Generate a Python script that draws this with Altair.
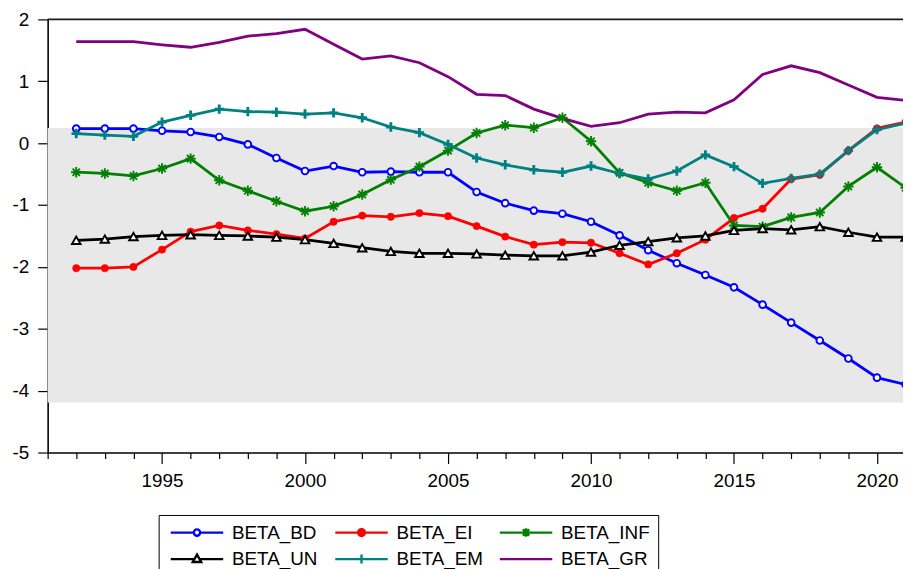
import altair as alt
import pandas as pd

YEARS = list(range(1992, 2022))
SERIES = ["BETA_BD", "BETA_EI", "BETA_INF", "BETA_UN", "BETA_EM", "BETA_GR"]

BETA_BD = [0.235, 0.235, 0.235, 0.20, 0.18, 0.10, -0.02, -0.24, -0.45, -0.37, -0.47, -0.46, -0.47, -0.47,
           -0.79, -0.97, -1.09, -1.14, -1.27, -1.49, -1.73, -1.94, -2.13, -2.33, -2.61, -2.90, -3.19, -3.48, -3.79, -3.90]
BETA_EI = [-2.02, -2.02, -2.00, -1.72, -1.43, -1.33, -1.41, -1.47, -1.54, -1.27, -1.17, -1.19, -1.13, -1.18,
           -1.34, -1.51, -1.64, -1.60, -1.61, -1.78, -1.96, -1.78, -1.56, -1.21, -1.06, -0.58, -0.51, -0.12, 0.24, 0.34]
BETA_INF = [-0.47, -0.49, -0.53, -0.41, -0.25, -0.60, -0.77, -0.94, -1.10, -1.02, -0.83, -0.59, -0.38, -0.12,
            0.165, 0.29, 0.25, 0.41, 0.03, -0.48, -0.64, -0.77, -0.64, -1.33, -1.35, -1.20, -1.12, -0.70, -0.39, -0.72]
BETA_UN = [-1.57, -1.55, -1.51, -1.49, -1.48, -1.49, -1.50, -1.52, -1.56, -1.62, -1.69, -1.75, -1.78, -1.78,
           -1.79, -1.81, -1.82, -1.82, -1.76, -1.65, -1.59, -1.53, -1.50, -1.41, -1.38, -1.40, -1.35, -1.44, -1.52, -1.52]
BETA_EM = [0.155, 0.13, 0.11, 0.34, 0.45, 0.55, 0.51, 0.50, 0.47, 0.49, 0.41, 0.26, 0.17, -0.02,
           -0.24, -0.35, -0.43, -0.47, -0.37, -0.49, -0.58, -0.45, -0.19, -0.38, -0.65, -0.57, -0.50, -0.12, 0.22, 0.32]
BETA_GR = [1.64, 1.64, 1.64, 1.59, 1.55, 1.63, 1.73, 1.77, 1.84, 1.60, 1.36, 1.41, 1.30, 1.075,
           0.79, 0.77, 0.55, 0.40, 0.27, 0.33, 0.47, 0.50, 0.49, 0.70, 1.11, 1.25, 1.14, 0.94, 0.74, 0.69]

BAND_TOP = [0.245]
BAND_BOTTOM = [-4.19]
Y_TICKS = list(range(-5, 3))
X_TICKS = list(range(1991, 2021))
X_DOMAIN = [1991, 2020.91]
Y_DOMAIN = [-5, 2]

# styles
COLORS = ["#0000ff", "#ff0000", "#008000", "#000000", "#008080", "#800080"]
LEGEND_FILLS = ["#ffffff", "#ff0000", "transparent", "#ffffff", "transparent", "transparent"]
STAR = "M-1,0H1M0,-1V1M-0.7,-0.7L0.7,0.7M-0.7,0.7L0.7,-0.7"
PLUS = "M-1,0H1M0,-1V1"
LEGEND_SHAPES = [
    "M-1,0H3.4M4.6,0H9M3.4,0A0.6,0.6,0,1,1,4.6,0A0.6,0.6,0,1,1,3.4,0Z",
    "M-1,0H9M3.35,0A0.65,0.65,0,1,1,4.65,0A0.65,0.65,0,1,1,3.35,0Z",
    "M-1,0H9M4,-0.8V0.8M3.4,-0.6L4.6,0.6M3.4,0.6L4.6,-0.6",
    "M-1,0H3.5M4.5,0H9M4,-0.85L4.8,0.55H3.2Z",
    "M-1,0H9M4,-0.85V0.85",
    "M-1,0H9",
]
MARKERS = {
    "BETA_BD": dict(shape="circle", size=46, filled=True, fill="#ffffff", stroke="#0000ff", strokeWidth=1.9),
    "BETA_EI": dict(shape="circle", size=55, filled=True, fill="#ff0000", stroke="#ff0000", strokeWidth=0.5),
    "BETA_INF": dict(shape=STAR, size=110, filled=False, stroke="#008000", strokeWidth=1.9),
    "BETA_UN": dict(shape="triangle-up", size=75, filled=True, fill="#ffffff", stroke="#000000", strokeWidth=1.9),
    "BETA_EM": dict(shape=PLUS, size=90, filled=False, stroke="#008080", strokeWidth=2.9),
}
FONT = "Liberation Sans"

rows = []
for name, vals in zip(SERIES, [BETA_BD, BETA_EI, BETA_INF, BETA_UN, BETA_EM, BETA_GR]):
    for yr, v in zip(YEARS, vals):
        rows.append({"year": yr, "series": name, "value": v})
df = pd.DataFrame(rows)
band_df = pd.DataFrame({"top": BAND_TOP, "bottom": BAND_BOTTOM})
frame_df = pd.DataFrame({"v": [Y_DOMAIN[1]]})

x_scale = alt.Scale(domain=X_DOMAIN, nice=False, zero=False)
y_scale = alt.Scale(domain=Y_DOMAIN, nice=False, zero=False)
stroke_scale = alt.Scale(domain=SERIES, range=COLORS)

x_axis = alt.Axis(values=X_TICKS, title=None, grid=False,
                  labelExpr="datum.value % 5 === 0 ? '' + datum.value : ''",
                  tickSize=alt.ExprRef(expr="(datum.value % 5 === 0 ? 11 : 6)"),
                  labelPadding=8, labelFlush=False, labelOverlap=False)
y_axis = alt.Axis(values=Y_TICKS, title=None, grid=False, labelExpr="'' + datum.value",
                  tickSize=10, labelPadding=9)

X = alt.X("year:Q", scale=x_scale, axis=x_axis)
Y = alt.Y("value:Q", scale=y_scale, axis=y_axis)
leg = alt.Legend(title=None)

band = alt.Chart(band_df).mark_rect(color="#e8e8e8").encode(
    y=alt.Y("top:Q", scale=y_scale, axis=y_axis), y2="bottom:Q")

top_line = alt.Chart(frame_df).mark_rule(color="#1a1a1a", strokeWidth=1.8).encode(
    y=alt.Y("v:Q", scale=y_scale, axis=y_axis))

lines = alt.Chart(df).mark_line(strokeWidth=2.8).encode(
    x=X, y=Y,
    stroke=alt.Stroke("series:N", scale=stroke_scale, legend=leg),
    detail="series:N",
)

marker_layers = []
for name, spec in MARKERS.items():
    marker_layers.append(
        alt.Chart(df).transform_filter(alt.datum.series == name).mark_point(opacity=1, **spec).encode(x=X, y=Y)
    )

legend_layer = alt.Chart(df).transform_filter("false").mark_point(filled=True, opacity=1).encode(
    x=X, y=Y,
    stroke=alt.Stroke("series:N", scale=stroke_scale, legend=leg),
    fill=alt.Fill("series:N", scale=alt.Scale(domain=SERIES, range=LEGEND_FILLS), legend=leg),
    shape=alt.Shape("series:N", scale=alt.Scale(domain=SERIES, range=LEGEND_SHAPES), legend=leg),
)

chart = alt.layer(band, top_line, lines, *marker_layers, legend_layer).properties(
    width=863, height=437,
    autosize=alt.AutoSizeParams(type="none"),
    padding={"left": 40, "top": 9, "right": 0, "bottom": 115},
    background="white",
).configure_view(stroke=None).configure_axis(
    labelFont=FONT, labelFontSize=19, labelColor="#000000",
    tickColor="#000000", tickWidth=1.2, domainColor="#000000", domainWidth=1.6,
).configure_legend(
    orient="none", legendX=112, legendY=500, columns=3, direction="horizontal", gridAlign="all",
    strokeColor="#000000", fillColor="#ffffff", padding=8, rowPadding=7, columnPadding=9,
    labelFont=FONT, labelFontSize=19, labelColor="#000000", labelOffset=47, labelLimit=300,
    symbolSize=112, symbolStrokeWidth=2.4, symbolOpacity=1,
)

chart.save("out.html", embed_options={"renderer": "svg", "actions": False})
